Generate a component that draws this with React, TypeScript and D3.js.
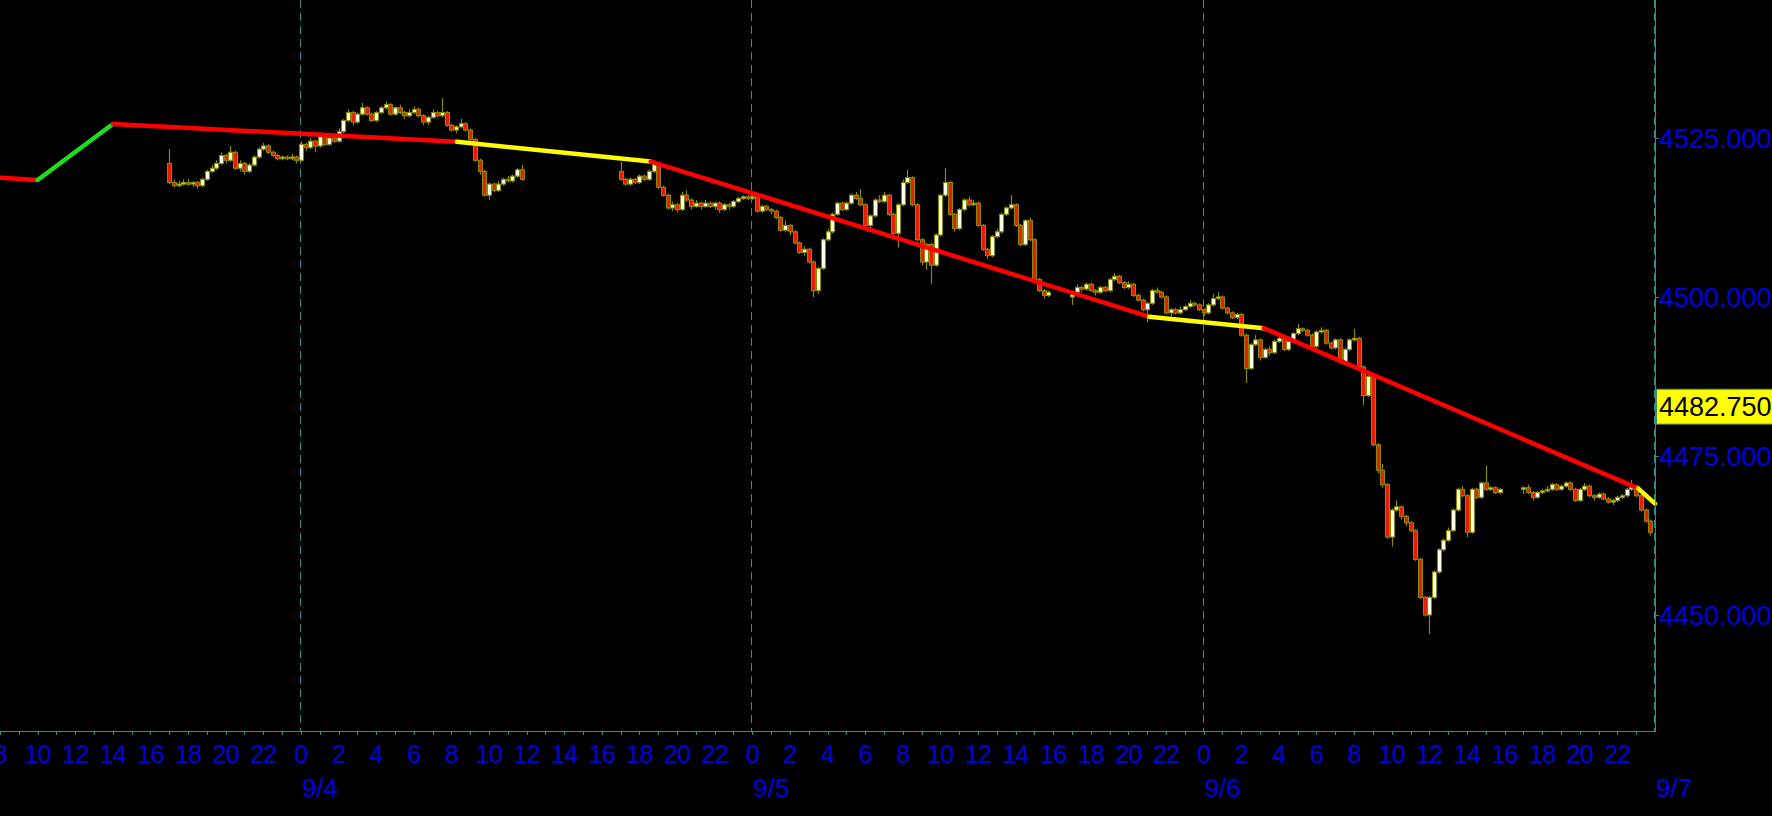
import * as d3 from "d3";

const WIDTH = 1772;
const HEIGHT = 816;
const PLOT_RIGHT = 1655;
const PLOT_BOTTOM = 731;

const COLORS = {
  bg: "#000000",
  axis: "#2f8f8f",
  grid: "#2f8f8f",
  label: "#0000e0",
  upBody: "#fffff0",
  downBody: "#f01800",
  outline: "#8a8a00",
  red: "#ff0000",
  green: "#1fdc1f",
  yellow: "#ffff00",
};

const FONT = "'Liberation Sans', Arial, sans-serif";

const utc = (d: number, h: number, m = 0) => new Date(Date.UTC(2023, 8, d, h, m));

// visible window (CT clock as printed on the chart)
const X_START = utc(3, 8);
const X_END = utc(7, 0);
const Y_MIN = 4431.75;
const Y_MAX = 4546.7;

const yTicks = [4450, 4475, 4500, 4525];
const dayLines = [utc(4, 0), utc(5, 0), utc(6, 0), utc(7, 0)];
const dayLabels = ["9/4", "9/5", "9/6", "9/7"];
const lastPrice = 4482.75;

// first bar of each trading session
const sessionStarts = [utc(3, 17), utc(4, 17), utc(5, 17), utc(6, 17)];

// 15-minute candles: [open, high, low, close]
const session1: number[][] = [
  [4521.0, 4523.25, 4517.75, 4518.0], [4518.0, 4518.5, 4517.25, 4517.5], [4517.5, 4518.25, 4517.25, 4517.75],
  [4517.75, 4518.5, 4517.5, 4518.0], [4518.0, 4518.5, 4517.5, 4517.75], [4517.75, 4518.25, 4517.25, 4518.0],
  [4518.0, 4518.25, 4517.0, 4517.5], [4517.5, 4518.75, 4517.25, 4518.5], [4518.5, 4520.0, 4518.25, 4519.75],
  [4519.75, 4520.75, 4519.5, 4520.25], [4520.25, 4521.5, 4520.0, 4521.0], [4521.0, 4522.75, 4520.75, 4522.25],
  [4522.25, 4522.5, 4521.0, 4521.5], [4521.5, 4523.75, 4521.25, 4522.75], [4522.75, 4523.0, 4520.0, 4520.25],
  [4520.25, 4521.5, 4519.75, 4521.0], [4521.0, 4521.25, 4519.25, 4519.75], [4519.75, 4521.0, 4519.5, 4520.75],
  [4520.75, 4522.25, 4520.5, 4522.0], [4522.0, 4523.5, 4521.75, 4523.25], [4523.25, 4524.25, 4523.0, 4523.75],
  [4523.75, 4524.0, 4522.5, 4522.75], [4522.75, 4523.0, 4522.0, 4522.25], [4522.25, 4522.5, 4521.5, 4521.75],
  [4521.75, 4522.25, 4521.5, 4522.0], [4522.0, 4522.25, 4521.5, 4521.75], [4521.75, 4522.5, 4521.5, 4522.0],
  [4522.0, 4522.25, 4521.0, 4521.5], [4521.5, 4524.5, 4521.25, 4524.0], [4524.0, 4524.25, 4523.0, 4523.5],
  [4523.5, 4525.0, 4523.25, 4524.5], [4524.5, 4524.75, 4522.75, 4523.75], [4523.75, 4525.75, 4523.5, 4525.25],
  [4525.25, 4525.5, 4523.75, 4524.0], [4524.0, 4525.5, 4523.75, 4525.0], [4525.0, 4525.25, 4524.25, 4524.5],
  [4524.5, 4526.5, 4524.25, 4526.0], [4526.0, 4528.0, 4525.75, 4527.75], [4527.75, 4529.5, 4527.5, 4529.0],
  [4529.0, 4529.25, 4527.0, 4527.5], [4527.5, 4529.0, 4527.25, 4528.75], [4528.75, 4530.5, 4528.5, 4529.75],
  [4529.75, 4530.0, 4528.5, 4528.75], [4528.75, 4529.0, 4527.5, 4527.75], [4527.75, 4529.25, 4527.5, 4529.0],
  [4529.0, 4530.0, 4528.75, 4529.75], [4529.75, 4530.75, 4529.5, 4530.25], [4530.25, 4530.5, 4528.5, 4528.75],
  [4528.75, 4530.0, 4528.5, 4529.75], [4529.75, 4530.25, 4528.75, 4529.0], [4529.0, 4529.25, 4528.0, 4528.5],
  [4528.5, 4529.5, 4528.25, 4529.0], [4529.0, 4530.0, 4528.75, 4529.5], [4529.5, 4529.75, 4528.25, 4528.5],
  [4528.5, 4528.75, 4527.0, 4527.5], [4527.5, 4528.5, 4527.0, 4528.25], [4528.25, 4529.5, 4528.0, 4529.0],
  [4529.0, 4529.25, 4528.25, 4528.5], [4528.5, 4531.25, 4528.25, 4529.0], [4529.0, 4529.25, 4526.75, 4527.0],
  [4527.0, 4527.25, 4526.0, 4526.25], [4526.25, 4527.0, 4525.75, 4526.75], [4526.75, 4528.0, 4526.5, 4527.25],
  [4527.25, 4527.5, 4526.0, 4526.25], [4526.25, 4526.5, 4524.5, 4524.75], [4524.75, 4525.0, 4521.25, 4521.5],
  [4521.5, 4521.75, 4519.25, 4519.75], [4519.75, 4520.0, 4515.75, 4516.0], [4516.0, 4518.0, 4515.25, 4517.75],
  [4517.75, 4518.0, 4516.5, 4516.75], [4516.75, 4518.25, 4516.5, 4517.75], [4517.75, 4518.75, 4517.5, 4518.5],
  [4518.5, 4519.0, 4518.0, 4518.25], [4518.25, 4519.25, 4518.0, 4519.0], [4519.0, 4520.25, 4518.75, 4520.0],
  [4520.0, 4520.75, 4518.25, 4518.5],
];

const session2: number[][] = [
  [4519.75, 4521.25, 4518.25, 4518.5], [4518.5, 4518.75, 4517.5, 4517.75], [4517.75, 4518.75, 4517.5, 4518.5],
  [4518.5, 4518.75, 4517.75, 4518.0], [4518.0, 4519.25, 4517.75, 4519.0], [4519.0, 4519.25, 4518.25, 4518.5],
  [4518.5, 4520.0, 4518.25, 4519.75], [4519.75, 4521.5, 4519.5, 4521.0], [4521.0, 4521.25, 4517.0, 4517.25],
  [4517.25, 4517.5, 4515.75, 4516.0], [4516.0, 4516.25, 4513.75, 4514.0], [4514.0, 4515.0, 4513.5, 4514.5],
  [4514.5, 4514.75, 4513.25, 4513.75], [4513.75, 4516.5, 4513.5, 4516.0], [4516.0, 4516.75, 4515.0, 4515.25],
  [4515.25, 4515.5, 4513.75, 4514.25], [4514.25, 4515.25, 4514.0, 4514.75], [4514.75, 4515.0, 4513.75, 4514.25],
  [4514.25, 4515.25, 4514.0, 4514.75], [4514.75, 4515.0, 4514.0, 4514.25], [4514.25, 4515.0, 4513.75, 4514.75],
  [4514.75, 4515.0, 4513.25, 4513.75], [4513.75, 4514.75, 4513.5, 4514.5], [4514.5, 4514.75, 4513.75, 4514.25],
  [4514.25, 4515.25, 4514.0, 4515.0], [4515.0, 4515.75, 4514.75, 4515.5], [4515.5, 4516.0, 4515.25, 4515.75],
  [4515.75, 4516.0, 4515.25, 4515.5], [4515.5, 4516.25, 4515.25, 4515.75], [4515.75, 4516.0, 4513.25, 4513.5],
  [4513.5, 4514.5, 4513.25, 4514.25], [4514.25, 4514.5, 4513.5, 4513.75], [4513.75, 4514.0, 4513.0, 4513.5],
  [4513.5, 4513.75, 4512.25, 4512.5], [4512.5, 4512.75, 4510.25, 4510.5], [4510.5, 4512.0, 4510.25, 4511.25],
  [4511.25, 4511.5, 4509.75, 4510.25], [4510.25, 4510.5, 4508.25, 4508.5], [4508.5, 4508.75, 4506.75, 4507.0],
  [4507.0, 4508.0, 4506.5, 4507.5], [4507.5, 4507.75, 4505.25, 4505.5], [4505.5, 4505.75, 4500.0, 4501.0],
  [4501.0, 4504.75, 4500.5, 4504.5], [4504.5, 4509.25, 4504.25, 4509.0], [4509.0, 4510.75, 4508.75, 4510.25],
  [4510.25, 4513.25, 4510.0, 4513.0], [4513.0, 4515.0, 4512.75, 4514.75], [4514.75, 4515.0, 4513.5, 4513.75],
  [4513.75, 4515.0, 4513.5, 4514.75], [4514.75, 4516.25, 4514.5, 4516.0], [4516.0, 4516.5, 4515.25, 4515.5],
  [4515.5, 4517.0, 4514.25, 4514.5], [4514.5, 4514.75, 4511.0, 4511.25], [4511.25, 4513.0, 4510.75, 4512.75],
  [4512.75, 4515.5, 4512.5, 4515.25], [4515.25, 4516.0, 4514.75, 4515.0], [4515.0, 4516.5, 4514.75, 4516.0],
  [4516.0, 4516.25, 4512.75, 4513.0], [4513.0, 4513.25, 4509.75, 4510.0], [4510.0, 4514.75, 4507.75, 4514.5],
  [4514.5, 4518.5, 4514.25, 4518.0], [4518.0, 4520.0, 4517.75, 4518.75], [4518.75, 4519.0, 4514.25, 4514.5],
  [4514.5, 4514.75, 4508.75, 4509.0], [4509.0, 4509.25, 4505.0, 4505.5], [4505.5, 4508.5, 4504.25, 4508.25],
  [4508.25, 4508.5, 4502.0, 4505.0], [4505.0, 4510.0, 4504.75, 4509.75], [4509.75, 4516.25, 4509.5, 4516.0],
  [4516.0, 4520.25, 4515.75, 4518.0], [4518.0, 4518.25, 4512.75, 4513.0], [4513.0, 4513.25, 4510.25, 4510.75],
  [4510.75, 4514.0, 4510.5, 4513.75], [4513.75, 4515.5, 4513.5, 4515.25], [4515.25, 4515.75, 4514.25, 4514.5],
  [4514.5, 4515.25, 4514.25, 4514.75], [4514.75, 4515.0, 4511.0, 4511.25], [4511.25, 4511.5, 4507.25, 4507.5],
  [4507.5, 4507.75, 4506.0, 4506.5], [4506.5, 4509.75, 4506.25, 4509.5], [4509.5, 4510.75, 4509.25, 4510.25],
  [4510.25, 4513.25, 4510.0, 4513.0], [4513.0, 4514.25, 4512.75, 4514.0], [4514.0, 4516.0, 4513.75, 4514.5],
  [4514.5, 4514.75, 4511.0, 4511.25], [4511.25, 4511.5, 4508.0, 4508.25], [4508.25, 4512.25, 4508.0, 4512.0],
  [4512.0, 4512.5, 4508.75, 4509.0], [4509.0, 4509.25, 4502.5, 4502.75], [4502.75, 4503.0, 4500.75, 4501.0],
  [4501.0, 4501.25, 4499.75, 4500.25], [4500.25, 4501.0, 4500.0, 4500.75],
];

const session3: number[][] = [
  [4500.0, 4501.0, 4498.75, 4500.75], [4500.75, 4502.0, 4500.5, 4501.5], [4501.5, 4501.75, 4500.75, 4501.25],
  [4501.25, 4502.25, 4501.0, 4502.0], [4502.0, 4502.25, 4500.75, 4501.0], [4501.0, 4501.25, 4500.25, 4500.75],
  [4500.75, 4501.75, 4500.5, 4501.5], [4501.5, 4501.75, 4500.75, 4501.0], [4501.0, 4503.0, 4500.75, 4502.75],
  [4502.75, 4503.75, 4502.5, 4503.25], [4503.25, 4503.5, 4502.0, 4502.25], [4502.25, 4502.5, 4501.25, 4501.5],
  [4501.5, 4502.5, 4501.25, 4502.0], [4502.0, 4502.25, 4500.0, 4500.25], [4500.25, 4500.5, 4499.25, 4499.5],
  [4499.5, 4499.75, 4497.75, 4498.0], [4498.0, 4499.25, 4496.0, 4499.0], [4499.0, 4501.25, 4498.75, 4501.0],
  [4501.0, 4501.5, 4500.5, 4500.75], [4500.75, 4501.0, 4499.75, 4500.0], [4500.0, 4500.25, 4497.25, 4497.5],
  [4497.5, 4498.25, 4497.0, 4498.0], [4498.0, 4498.25, 4497.25, 4497.5], [4497.5, 4498.5, 4497.25, 4498.0],
  [4498.0, 4498.75, 4497.75, 4498.5], [4498.5, 4499.5, 4498.25, 4499.0], [4499.0, 4499.25, 4498.5, 4498.75],
  [4498.75, 4499.0, 4497.75, 4498.0], [4498.0, 4498.25, 4497.0, 4497.5], [4497.5, 4499.0, 4497.25, 4498.75],
  [4498.75, 4500.5, 4498.5, 4499.75], [4499.75, 4500.75, 4499.5, 4500.0], [4500.0, 4500.25, 4498.0, 4498.25],
  [4498.25, 4498.5, 4497.25, 4497.5], [4497.5, 4497.75, 4496.5, 4496.75], [4496.75, 4497.5, 4496.5, 4497.25],
  [4497.25, 4497.5, 4493.75, 4494.0], [4494.0, 4494.25, 4486.5, 4488.75], [4488.75, 4492.75, 4488.5, 4492.5],
  [4492.5, 4494.0, 4492.25, 4493.25], [4493.25, 4493.5, 4490.0, 4490.5], [4490.5, 4492.0, 4490.25, 4491.75],
  [4491.75, 4492.25, 4490.75, 4491.25], [4491.25, 4493.25, 4491.0, 4493.0], [4493.0, 4494.0, 4492.75, 4493.5],
  [4493.5, 4493.75, 4491.5, 4491.75], [4491.75, 4493.25, 4491.5, 4493.0], [4493.0, 4494.5, 4492.75, 4494.25],
  [4494.25, 4495.75, 4494.0, 4495.0], [4495.0, 4495.25, 4494.5, 4494.75], [4494.75, 4495.0, 4493.75, 4494.0],
  [4494.0, 4494.25, 4492.0, 4492.25], [4492.25, 4494.75, 4491.75, 4494.5], [4494.5, 4495.25, 4494.25, 4494.75],
  [4494.75, 4495.0, 4492.5, 4492.75], [4492.75, 4493.0, 4491.75, 4492.0], [4492.0, 4493.5, 4491.75, 4493.25],
  [4493.25, 4493.5, 4489.5, 4489.75], [4489.75, 4492.0, 4489.5, 4491.75], [4491.75, 4493.5, 4491.5, 4493.25],
  [4493.25, 4495.0, 4493.0, 4493.5], [4493.5, 4493.75, 4488.75, 4489.0], [4489.0, 4489.25, 4483.0, 4484.5],
  [4484.5, 4488.0, 4484.25, 4487.5], [4487.5, 4487.75, 4476.5, 4476.75], [4476.75, 4477.0, 4472.25, 4472.75],
  [4472.75, 4473.75, 4470.0, 4470.5], [4470.5, 4470.75, 4462.0, 4462.25], [4462.25, 4466.75, 4460.75, 4466.5],
  [4466.5, 4468.0, 4466.25, 4467.0], [4467.0, 4467.25, 4465.0, 4465.5], [4465.5, 4465.75, 4464.0, 4464.5],
  [4464.5, 4464.75, 4463.0, 4463.25], [4463.25, 4463.5, 4458.5, 4458.75], [4458.75, 4459.0, 4452.5, 4452.75],
  [4452.75, 4453.0, 4449.75, 4450.0], [4450.0, 4453.0, 4447.0, 4452.75], [4452.75, 4457.0, 4452.5, 4456.75],
  [4456.75, 4460.5, 4456.5, 4460.25], [4460.25, 4462.0, 4460.0, 4461.75], [4461.75, 4463.75, 4461.5, 4463.25],
  [4463.25, 4466.75, 4463.0, 4466.5], [4466.5, 4470.0, 4466.25, 4469.75], [4469.75, 4470.25, 4468.5, 4468.75],
  [4468.75, 4469.0, 4462.25, 4463.0], [4463.0, 4470.0, 4462.75, 4469.75], [4469.75, 4470.0, 4468.25, 4468.5],
  [4468.5, 4471.0, 4468.25, 4470.75], [4470.75, 4473.5, 4469.5, 4469.75], [4469.75, 4470.25, 4469.5, 4470.0],
  [4470.0, 4470.25, 4469.0, 4469.25], [4469.25, 4470.0, 4469.0, 4469.75],
];

const session4: number[][] = [
  [4469.75, 4470.25, 4469.0, 4470.0], [4470.0, 4470.5, 4469.0, 4469.25], [4469.25, 4469.5, 4468.0, 4468.5],
  [4468.5, 4469.5, 4468.25, 4469.25], [4469.25, 4469.75, 4469.0, 4469.5], [4469.5, 4470.25, 4469.25, 4469.75],
  [4469.75, 4470.75, 4469.5, 4470.5], [4470.5, 4470.75, 4469.5, 4469.75], [4469.75, 4470.5, 4469.5, 4470.25],
  [4470.25, 4471.0, 4470.0, 4470.75], [4470.75, 4471.0, 4469.5, 4469.75], [4469.75, 4470.0, 4467.75, 4468.0],
  [4468.0, 4470.0, 4467.75, 4469.75], [4469.75, 4470.75, 4469.5, 4470.25], [4470.25, 4470.5, 4468.5, 4468.75],
  [4468.75, 4469.0, 4468.0, 4468.5], [4468.5, 4469.25, 4468.25, 4469.0], [4469.0, 4469.25, 4468.0, 4468.25],
  [4468.25, 4468.5, 4467.5, 4467.75], [4467.75, 4468.25, 4467.25, 4468.0], [4468.0, 4468.75, 4467.75, 4468.5],
  [4468.5, 4469.0, 4468.25, 4468.75], [4468.75, 4470.0, 4468.5, 4469.75], [4469.75, 4471.25, 4469.5, 4470.25],
  [4470.25, 4470.5, 4468.5, 4468.75], [4468.75, 4469.0, 4466.25, 4466.5], [4466.5, 4466.75, 4464.5, 4464.75],
  [4464.75, 4465.0, 4462.5, 4463.0],
];

const sessions = [session1, session2, session3, session4];

// overlay line: vertices and colour of each segment that follows a vertex
const trendTimes = [
  utc(3, 8), utc(3, 10), utc(3, 14), utc(4, 8, 18), utc(4, 18, 36),
  utc(5, 21, 6), utc(6, 3, 12), utc(6, 23, 6), utc(7, 0),
];
const trendValues = [4518.75, 4518.4, 4527.2, 4524.4, 4521.3, 4496.9, 4495.1, 4469.9, 4467.5];
const trendColors = ["red", "green", "red", "yellow", "red", "yellow", "red", "yellow"];

const BAR_MS = 15 * 60 * 1000;

export default function App() {
  const x = d3.scaleUtc().domain([X_START, X_END]).range([0, PLOT_RIGHT]);
  const y = d3.scaleLinear().domain([Y_MIN, Y_MAX]).range([PLOT_BOTTOM, 0]);

  const candles = sessions.flatMap((bars, s) =>
    bars.map(([o, h, l, c], k) => ({
      t: new Date(sessionStarts[s].getTime() + k * BAR_MS),
      o, h, l, c,
    }))
  );

  const hourTicks = d3.utcHour.range(X_START, X_END);
  const labelTicks = d3.utcHour.every(2)!.range(X_START, X_END);

  const segLine = d3
    .line<[Date, number]>()
    .x((d) => x(d[0]))
    .y((d) => y(d[1]));

  const fmt = d3.format(".3f");
  const bodyW = 4;

  return (
    <div style={{ position: "fixed", left: 0, top: 0, width: WIDTH, height: HEIGHT, background: COLORS.bg }}>
      <svg width={WIDTH} height={HEIGHT} style={{ display: "block", background: COLORS.bg }} fontFamily={FONT}>
        {/* day separators */}
        {dayLines.map((d, i) => (
          <line
            key={"dl" + i}
            x1={Math.round(x(d)) - 0.5}
            x2={Math.round(x(d)) - 0.5}
            y1={0}
            y2={PLOT_BOTTOM}
            stroke={COLORS.grid}
            strokeWidth={1}
            strokeDasharray="8,5"
          />
        ))}

        {/* candles */}
        <g>
          {candles.map((d, i) => {
            const cx = Math.round(x(d.t)) + 0.5;
            const up = d.c >= d.o;
            const top = y(Math.max(d.o, d.c));
            const bot = y(Math.min(d.o, d.c));
            return (
              <g key={"c" + i}>
                <line x1={cx} x2={cx} y1={y(d.h)} y2={y(d.l)} stroke={COLORS.outline} strokeWidth={1.2} />
                <rect
                  x={cx - bodyW / 2}
                  y={top}
                  width={bodyW}
                  height={Math.max(1.5, bot - top)}
                  fill={up ? COLORS.upBody : COLORS.downBody}
                  stroke={COLORS.outline}
                  strokeWidth={1.1}
                />
              </g>
            );
          })}
        </g>

        {/* overlay line */}
        {trendColors.map((col, i) => (
          <path
            key={"tr" + i}
            d={segLine([
              [trendTimes[i], trendValues[i]],
              [trendTimes[i + 1], trendValues[i + 1]],
            ])!}
            fill="none"
            stroke={(COLORS as any)[col]}
            strokeWidth={4.5}
            strokeLinecap="round"
          />
        ))}

        {/* axes */}
        <line x1={0} x2={PLOT_RIGHT + 1} y1={PLOT_BOTTOM + 0.5} y2={PLOT_BOTTOM + 0.5} stroke={COLORS.axis} strokeWidth={1} />
        <line x1={PLOT_RIGHT + 0.5} x2={PLOT_RIGHT + 0.5} y1={0} y2={PLOT_BOTTOM + 1} stroke={COLORS.axis} strokeWidth={1} />

        {hourTicks.map((t, i) => (
          <line
            key={"ht" + i}
            x1={Math.round(x(t)) + 0.5}
            x2={Math.round(x(t)) + 0.5}
            y1={PLOT_BOTTOM}
            y2={PLOT_BOTTOM + 4}
            stroke={COLORS.axis}
          />
        ))}

        {labelTicks.map((t, i) => (
          <text
            key={"hl" + i}
            x={x(t)}
            y={763}
            textAnchor="middle"
            fontSize={25}
            letterSpacing={-0.8}
            fill={COLORS.label}
          >
            {t.getUTCHours()}
          </text>
        ))}

        {dayLines.map((d, i) => (
          <text key={"dt" + i} x={x(d) + 1} y={797} fontSize={26} fill={COLORS.label}>
            {dayLabels[i]}
          </text>
        ))}

        {yTicks.map((v) => (
          <g key={"yt" + v}>
            <line x1={PLOT_RIGHT + 1} x2={PLOT_RIGHT + 4} y1={Math.round(y(v)) + 0.5} y2={Math.round(y(v)) + 0.5} stroke={COLORS.axis} />
            <text x={PLOT_RIGHT + 4} y={y(v)} dy="0.36em" fontSize={27} fill={COLORS.label}>
              {fmt(v)}
            </text>
          </g>
        ))}

        {/* last price marker */}
        <rect
          x={PLOT_RIGHT + 1.5}
          y={y(lastPrice) - 17.5}
          width={WIDTH - PLOT_RIGHT}
          height={35}
          fill={COLORS.yellow}
          stroke="#3a8a5a"
          strokeWidth={1}
        />
        <text x={PLOT_RIGHT + 4} y={y(lastPrice)} dy="0.36em" fontSize={27} fill="#000000">
          {fmt(lastPrice)}
        </text>
      </svg>
    </div>
  );
}
